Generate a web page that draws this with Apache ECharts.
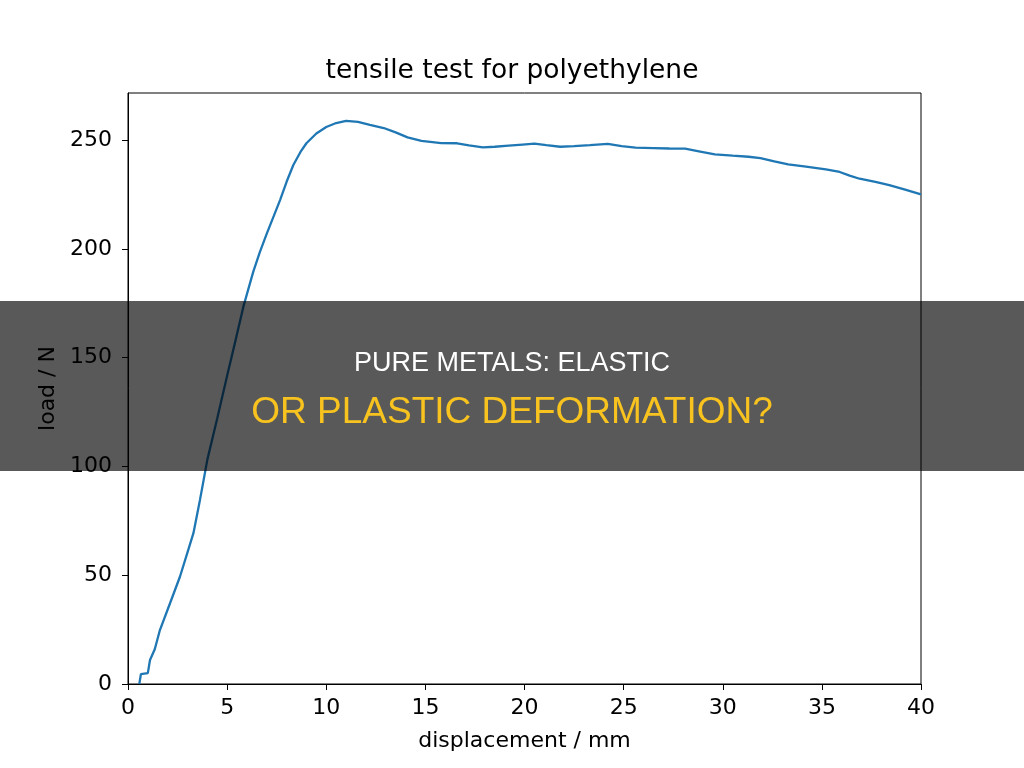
<!DOCTYPE html>
<html lang="en">
<head>
    <meta charset="UTF-8">
    <title>tensile test for polyethylene</title>
    <script src="https://cdn.jsdelivr.net/npm/echarts@6/dist/echarts.min.js"></script>
    <style>
        html, body { margin: 0; padding: 0; background: #fff; }
        #chart { width: 1024px; height: 768px; }
    </style>
</head>
<body>
    <div id="chart"></div>
    <script>
        // displacement (mm) and load (N)
        var displacement = [0.57, 0.65, 0.75, 1.0, 1.11, 1.35, 1.61, 2.12, 2.62, 3.04, 3.30, 3.63, 3.82, 4.0, 4.5, 5.0, 5.4, 5.82, 6.32, 6.65, 7.0, 7.35, 7.67, 8.0, 8.34, 8.7, 9.0, 9.5, 10.0, 10.5, 11.0, 11.6, 12.2, 12.9, 13.5, 14.1, 14.8, 15.8, 16.6, 17.2, 17.9, 18.5, 19.2, 19.9, 20.5, 21.1, 21.8, 22.5, 23.3, 24.2, 24.9, 25.6, 26.5, 27.3, 28.1, 28.8, 29.6, 30.5, 31.3, 31.9, 32.6, 33.3, 34.2, 35.2, 35.9, 36.4, 36.9, 37.7, 38.4, 39.2, 40.0];
        var load = [0, 4.5, 5, 5, 11, 16, 24.8, 37.1, 49.3, 61.6, 69.3, 84.6, 94, 103, 122, 141.7, 157, 173.4, 189.5, 198.5, 207, 215, 222.4, 230.8, 238.5, 244.5, 248.5, 253, 256, 257.8, 258.8, 258.3, 257, 255.5, 253.5, 251.2, 249.6, 248.6, 248.5, 247.5, 246.6, 246.9, 247.4, 247.9, 248.3, 247.6, 246.9, 247.2, 247.6, 248.2, 247.2, 246.5, 246.3, 246.1, 246.0, 244.8, 243.4, 242.8, 242.3, 241.7, 240.2, 238.8, 237.8, 236.5, 235.3, 233.6, 232.2, 230.8, 229.3, 227.2, 225.0];
        var xTicks = [0, 5, 10, 15, 20, 25, 30, 35, 40];
        var yTicks = [0, 50, 100, 150, 200, 250];
        var headline1 = 'PURE METALS: ELASTIC';
        var headline2 = 'OR PLASTIC DEFORMATION?';

        var points = [];
        for (var i = 0; i < displacement.length; i++) {
            points.push([displacement[i], load[i]]);
        }

        var font = 'DejaVu Sans';
        var axisCommon = {
            axisLine: { show: true, lineStyle: { color: '#000', width: 1 } },
            splitLine: { show: false },
            nameTextStyle: { fontFamily: font, fontSize: 22, color: '#000' }
        };

        var myChart = echarts.init(document.getElementById('chart'));
        myChart.setOption({
            animation: false,
            backgroundColor: '#fff',
            title: {
                text: 'tensile test for polyethylene',
                left: 'center',
                top: 53,
                textStyle: { fontFamily: font, fontSize: 26.5, fontWeight: 'normal', color: '#000' }
            },
            grid: {
                left: 128, right: 103, top: 93, bottom: 84,
                show: true, borderColor: '#000', borderWidth: 1, backgroundColor: 'transparent'
            },
            xAxis: Object.assign({}, axisCommon, {
                type: 'value',
                min: 0, max: 40, interval: 5,
                name: 'displacement / mm',
                nameLocation: 'middle',
                nameGap: 46,
                axisTick: { show: true, inside: false, length: 6, customValues: xTicks, lineStyle: { color: '#000' } },
                axisLabel: { fontFamily: font, fontSize: 22, color: '#000', margin: 13, customValues: xTicks }
            }),
            yAxis: Object.assign({}, axisCommon, {
                type: 'value',
                min: 0, max: 271.6, interval: 50,
                name: 'load / N',
                nameLocation: 'middle',
                nameGap: 67,
                axisTick: { show: true, inside: false, length: 6, customValues: yTicks, lineStyle: { color: '#000' } },
                axisLabel: { fontFamily: font, fontSize: 22, color: '#000', margin: 16, customValues: yTicks }
            }),
            series: [{
                type: 'line',
                data: points,
                showSymbol: false,
                smooth: false,
                lineStyle: { color: '#1f77b4', width: 2.3 },
                z: 2
            }],
            graphic: [
                {
                    type: 'rect',
                    z: 100,
                    shape: { x: 0, y: 301, width: 1024, height: 170 },
                    style: { fill: 'rgba(0,0,0,0.65)' }
                },
                {
                    type: 'text',
                    z: 101,
                    x: 512, y: 364,
                    style: {
                        text: headline1, fill: '#fff',
                        font: '27px "Liberation Sans", Arial, sans-serif',
                        textAlign: 'center', textVerticalAlign: 'middle'
                    }
                },
                {
                    type: 'text',
                    z: 101,
                    x: 512, y: 413,
                    style: {
                        text: headline2, fill: '#f8c31e',
                        font: '37px "Liberation Sans", Arial, sans-serif',
                        textAlign: 'center', textVerticalAlign: 'middle'
                    }
                }
            ]
        });
    </script>
</body>
</html>
